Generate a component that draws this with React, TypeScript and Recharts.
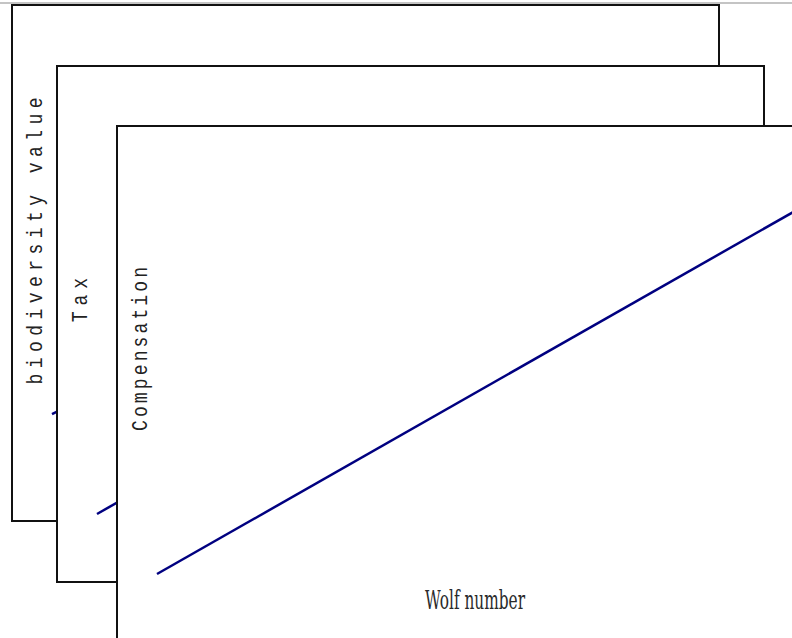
import React from 'react';
import { LineChart, Line, XAxis, YAxis } from 'recharts';

// ---- data ----
const wolfNumber = [0, 100];
const biodiversityValue = [9.5, 88];
const taxValue = [0, 90];
const compensationValue = [0, 90];

const panelLabels = ['biodiversity value', 'Tax', 'Compensation'];
const xLabelText = 'Wolf number';

const buildData = (ys: number[]) => wolfNumber.map((w, i) => ({ wolf: w, v: ys[i] }));

const PW = 709;
const PH = 518;
const margin = { top: 40, right: 21, bottom: 39, left: 11 };

type PanelProps = {
  left: number;
  top: number;
  values: number[];
  label: string;
  labelCenter: number;
  labelLength: number;
  showX?: boolean;
};

function Panel({ left, top, values, label, labelCenter, labelLength, showX }: PanelProps) {
  const data = buildData(values);
  const yLabel = () => (
    <text
      transform={`translate(31, ${labelCenter}) rotate(-90) scale(0.82, 1)`}
      textAnchor="middle"
      fontFamily="'Liberation Mono', monospace"
      fontSize={22}
      fill="#222"
      textLength={labelLength}
      lengthAdjust="spacing"
    >
      {label}
    </text>
  );
  const xLabel = () => (
    <text
      x={359}
      y={484}
      textAnchor="middle"
      fontFamily="'DejaVu Serif', serif"
      fontSize={26}
      fill="#2a2a2a"
      textLength={100}
      lengthAdjust="spacingAndGlyphs"
    >
      {xLabelText}
    </text>
  );
  return (
    <div style={{ position: 'absolute', left, top, width: PW, height: PH, background: '#fff' }}>
      <LineChart width={PW} height={PH} data={data} margin={margin}>
        <XAxis
          type="number"
          dataKey="wolf"
          domain={[0, 100]}
          height={30}
          tick={false}
          axisLine={false}
          tickLine={false}
          label={showX ? { content: xLabel } : undefined}
        />
        <YAxis
          type="number"
          domain={[0, 100]}
          width={30}
          tick={false}
          axisLine={false}
          tickLine={false}
          label={{ content: yLabel }}
        />
        <Line
          type="linear"
          dataKey="v"
          stroke="#000080"
          strokeWidth={2.5}
          dot={false}
          isAnimationActive={false}
        />
      </LineChart>
      <div
        style={{
          position: 'absolute',
          left: 0,
          top: 0,
          width: PW,
          height: PH,
          boxSizing: 'border-box',
          border: '2px solid #111',
          pointerEvents: 'none',
        }}
      />
    </div>
  );
}

export default function App() {
  return (
    <div
      style={{
        position: 'fixed',
        left: 0,
        top: 0,
        width: 792,
        height: 638,
        overflow: 'hidden',
        background: '#fff',
      }}
    >
      <div style={{ position: 'absolute', left: 0, top: 2, width: 792, height: 2, background: '#c4c4c4' }} />
      <Panel left={11} top={4} values={biodiversityValue} label={panelLabels[0]} labelCenter={237} labelLength={350} />
      <Panel left={56} top={65} values={taxValue} label={panelLabels[1]} labelCenter={235} labelLength={54} />
      <Panel
        left={116}
        top={125}
        values={compensationValue}
        label={panelLabels[2]}
        labelCenter={224}
        labelLength={200}
        showX
      />
    </div>
  );
}
